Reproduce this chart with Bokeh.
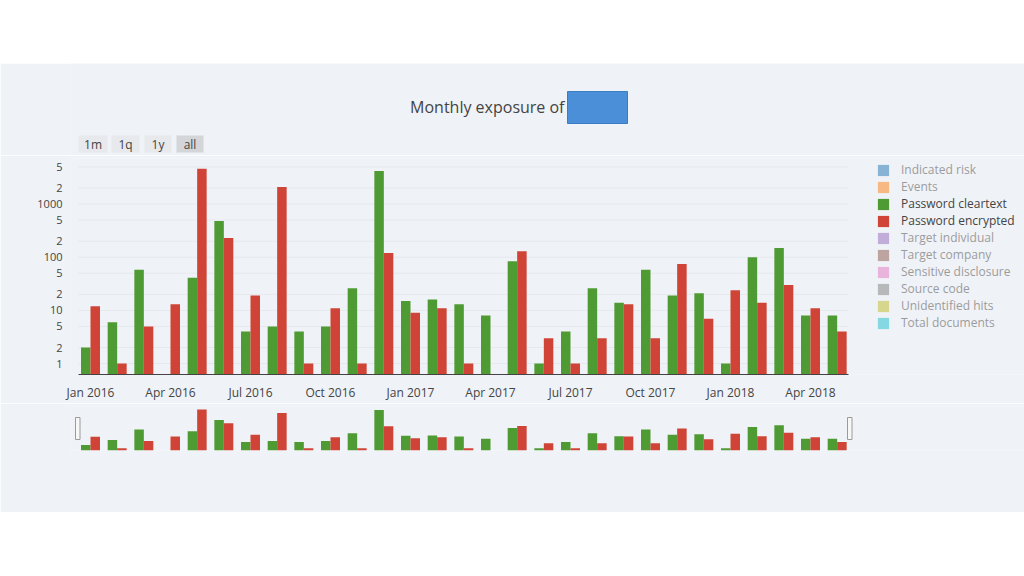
import math
from bokeh.plotting import figure
from bokeh.models import (Range1d, FixedTicker, Legend, LegendItem, ColumnDataSource,
                          Spacer, LinearScale)
from bokeh.layouts import column
from bokeh.embed import file_html
from bokeh.resources import INLINE
from bokeh.core.properties import value
from bokeh.transform import dodge

# ---------------- data ----------------
months = ["Jan 2016", "Feb 2016", "Mar 2016", "Apr 2016", "May 2016", "Jun 2016",
          "Jul 2016", "Aug 2016", "Sep 2016", "Oct 2016", "Nov 2016", "Dec 2016",
          "Jan 2017", "Feb 2017", "Mar 2017", "Apr 2017", "May 2017", "Jun 2017",
          "Jul 2017", "Aug 2017", "Sep 2017", "Oct 2017", "Nov 2017", "Dec 2017",
          "Jan 2018", "Feb 2018", "Mar 2018", "Apr 2018", "May 2018"]
password_cleartext = [2, 6, 58, 0, 41, 480, 4, 5, 4, 5, 26, 4200,
                      15, 16, 13, 8, 84, 1, 4, 26, 14, 58, 19, 21,
                      1, 100, 150, 8, 8]
password_encrypted = [12, 1, 5, 13, 4600, 230, 19, 2100, 1, 11, 1, 120,
                      9, 11, 1, 0, 130, 3, 1, 3, 13, 3, 75, 7,
                      24, 14, 30, 11, 4]
series_names = ["Indicated risk", "Events", "Password cleartext", "Password encrypted",
                "Target individual", "Target company", "Sensitive disclosure",
                "Source code", "Unidentified hits", "Total documents"]
series_colors = ["#1f77b4", "#ff7f0e", "#4f9b33", "#cf4437", "#9467bd",
                 "#8c564b", "#e377c2", "#7f7f7f", "#bcbd22", "#17becf"]
shown_series = ["Password cleartext", "Password encrypted"]
tick_months = ["Jan 2016", "Apr 2016", "Jul 2016", "Oct 2016", "Jan 2017",
               "Apr 2017", "Jul 2017", "Oct 2017", "Jan 2018", "Apr 2018"]
y_ticks = [1, 2, 5, 10, 20, 50, 100, 200, 500, 1000, 2000, 5000]
buttons = ["1m", "1q", "1y", "all"]
title_text = "Monthly exposure of"

# ---------------- style / geometry ----------------
BG = "#eff2f6"
TXT = "#444444"
FONT = "Open Sans"
W = 1024
LEFT = 70            # frame left edge (page px)
PLOT_LEFT = 78       # plotting area left edge
PLOT_W = 770         # plotting area width
XR0 = -0.45
XR1 = len(months) - 1 + 0.425
YR0, YR1 = 0.622, 7210
BW = 0.356
ppu = PLOT_W / (XR1 - XR0)
X_START = XR0 - (PLOT_LEFT - LEFT) / ppu
X_END = XR0 + (W - PLOT_LEFT) / ppu


def pos(v):
    return v if v > 0 else float("nan")


def tick_label(v):
    lead = int(round(v / 10 ** math.floor(math.log10(v))))
    return str(v) if lead == 1 else str(lead)


src = ColumnDataSource(dict(
    idx=list(range(len(months))),
    month=months,
    clear=[pos(v) for v in password_cleartext],
    enc=[pos(v) for v in password_encrypted],
    base=[0.01] * len(months),
))
series_data = {"Password cleartext": "clear", "Password encrypted": "enc"}
series_offset = {"Password cleartext": -BW / 2, "Password encrypted": BW / 2}

common = dict(output_backend="svg", toolbar_location=None,
              background_fill_color=BG, border_fill_color=BG, outline_line_color=None)

# ---------------- header (title + buttons) ----------------
HH = 92
h = figure(width=W, height=HH, x_range=Range1d(LEFT, W), y_range=Range1d(63 + HH, 63),
           x_axis_location=None, y_axis_location=None,
           min_border_left=LEFT, min_border_right=0, min_border_top=0, min_border_bottom=0,
           **common)
h.grid.visible = False
h.text(x=[564], y=[106], text=[title_text], text_align="right", text_baseline="middle",
       text_font=value(FONT), text_font_size="16px", text_color=TXT)
h.quad(left=[567], right=[627], top=[91], bottom=[123],
       fill_color="#4a8fd8", line_color="#3b7cc4", line_width=1)
b_left = [78, 111, 144, 176]
b_right = [107, 139, 171, 203]
b_fill = ["#e7e9ec", "#e7e9ec", "#e7e9ec", "#d4d5d8"]
h.quad(left=b_left, right=b_right, top=[135] * 4, bottom=[152] * 4,
       fill_color=b_fill, line_color=None)
h.text(x=[(a + b) / 2 for a, b in zip(b_left, b_right)], y=[143.5] * 4, text=buttons,
       text_align="center", text_baseline="middle", text_font=value(FONT),
       text_font_size="12px", text_color=TXT)

# ---------------- main plot ----------------
p = figure(width=W, height=248, x_range=Range1d(X_START, X_END), y_range=Range1d(YR0, YR1),
           y_axis_type="log", min_border_left=LEFT, min_border_right=0,
           min_border_top=3, min_border_bottom=28, **common)
p.xgrid.visible = False
p.ygrid.visible = False

p.segment(x0=[XR0] * len(y_ticks), x1=[XR1] * len(y_ticks),
          y0=y_ticks, y1=y_ticks, line_color="#e5e8ed", line_width=1)

renderers = {}
for name, color in zip(series_names, series_colors):
    if name in shown_series:
        r = p.vbar(x=dodge("idx", series_offset[name]), top=series_data[name], bottom="base",
                   width=BW, source=src, fill_color=color, line_color=None)
    else:
        # hidden (legend-only) series: no values shown
        r = p.vbar(x=[0], top=[float("nan")], bottom=[0.01], width=BW,
                   fill_color=color, line_color=None, visible=False)
    renderers[name] = r

legend = Legend(items=[LegendItem(label=n, renderers=[renderers[n]]) for n in series_names],
                location=(806, 43), click_policy="hide",
                glyph_width=14, glyph_height=14, label_standoff=11,
                label_height=17, spacing=0, padding=0, margin=0,
                label_text_font=FONT, label_text_font_size="12px", label_text_color=TXT,
                border_line_color=None, background_fill_alpha=0,
                inactive_fill_color=BG, inactive_fill_alpha=0.5)
p.add_layout(legend)

p.yaxis.ticker = FixedTicker(ticks=y_ticks)
p.yaxis.major_label_overrides = {v: tick_label(v) for v in y_ticks}
p.yaxis.major_label_text_font = FONT
p.yaxis.major_label_text_font_size = "11px"
p.yaxis.major_label_text_color = TXT
p.yaxis.major_label_standoff = 2
p.yaxis.axis_line_color = None
p.yaxis.major_tick_line_color = None
p.yaxis.minor_tick_line_color = None

tick_idx = [months.index(mo) for mo in tick_months]
p.xaxis.ticker = FixedTicker(ticks=tick_idx)
p.xaxis.bounds = (XR0, XR1)
p.xaxis.major_label_overrides = {i: mo for i, mo in zip(tick_idx, tick_months)}
p.xaxis.major_label_text_font = FONT
p.xaxis.major_label_text_font_size = "12px"
p.xaxis.major_label_text_color = TXT
p.xaxis.major_label_standoff = 3
p.xaxis.axis_line_color = TXT
p.xaxis.axis_line_width = 1
p.xaxis.major_tick_line_color = None
p.xaxis.minor_tick_line_color = None

# ---------------- range slider preview ----------------
MT, MF, MB = 3, 44, 62
m = figure(width=W, height=MT + MF + MB, x_range=Range1d(X_START, X_END),
           y_range=Range1d(YR0, 8800), y_axis_type="log",
           x_axis_location=None, y_axis_location=None,
           min_border_left=LEFT, min_border_right=0,
           min_border_top=MT, min_border_bottom=MB, **common)
m.grid.visible = False
for name in shown_series:
    m.vbar(x=dodge("idx", series_offset[name]), top=series_data[name], bottom="base",
           width=BW, source=src, fill_color=series_colors[series_names.index(name)],
           line_color=None)
m.extra_x_ranges = {"px": Range1d(LEFT, W)}
m.extra_y_ranges = {"px": Range1d(MF, 0)}
m.extra_x_scales = {"px": LinearScale()}
m.extra_y_scales = {"px": LinearScale()}
m.quad(left=[PLOT_LEFT - 3, PLOT_LEFT + PLOT_W - 1],
       right=[PLOT_LEFT + 1.5, PLOT_LEFT + PLOT_W + 3.5],
       top=[11, 11], bottom=[33, 33],
       fill_color="#f7f7f7", line_color="#9a9a9a", line_width=1,
       x_range_name="px", y_range_name="px")

layout = column(Spacer(width=W, height=63), h, p, m, spacing=0)

open("out.html", "w").write(file_html(layout, INLINE))
